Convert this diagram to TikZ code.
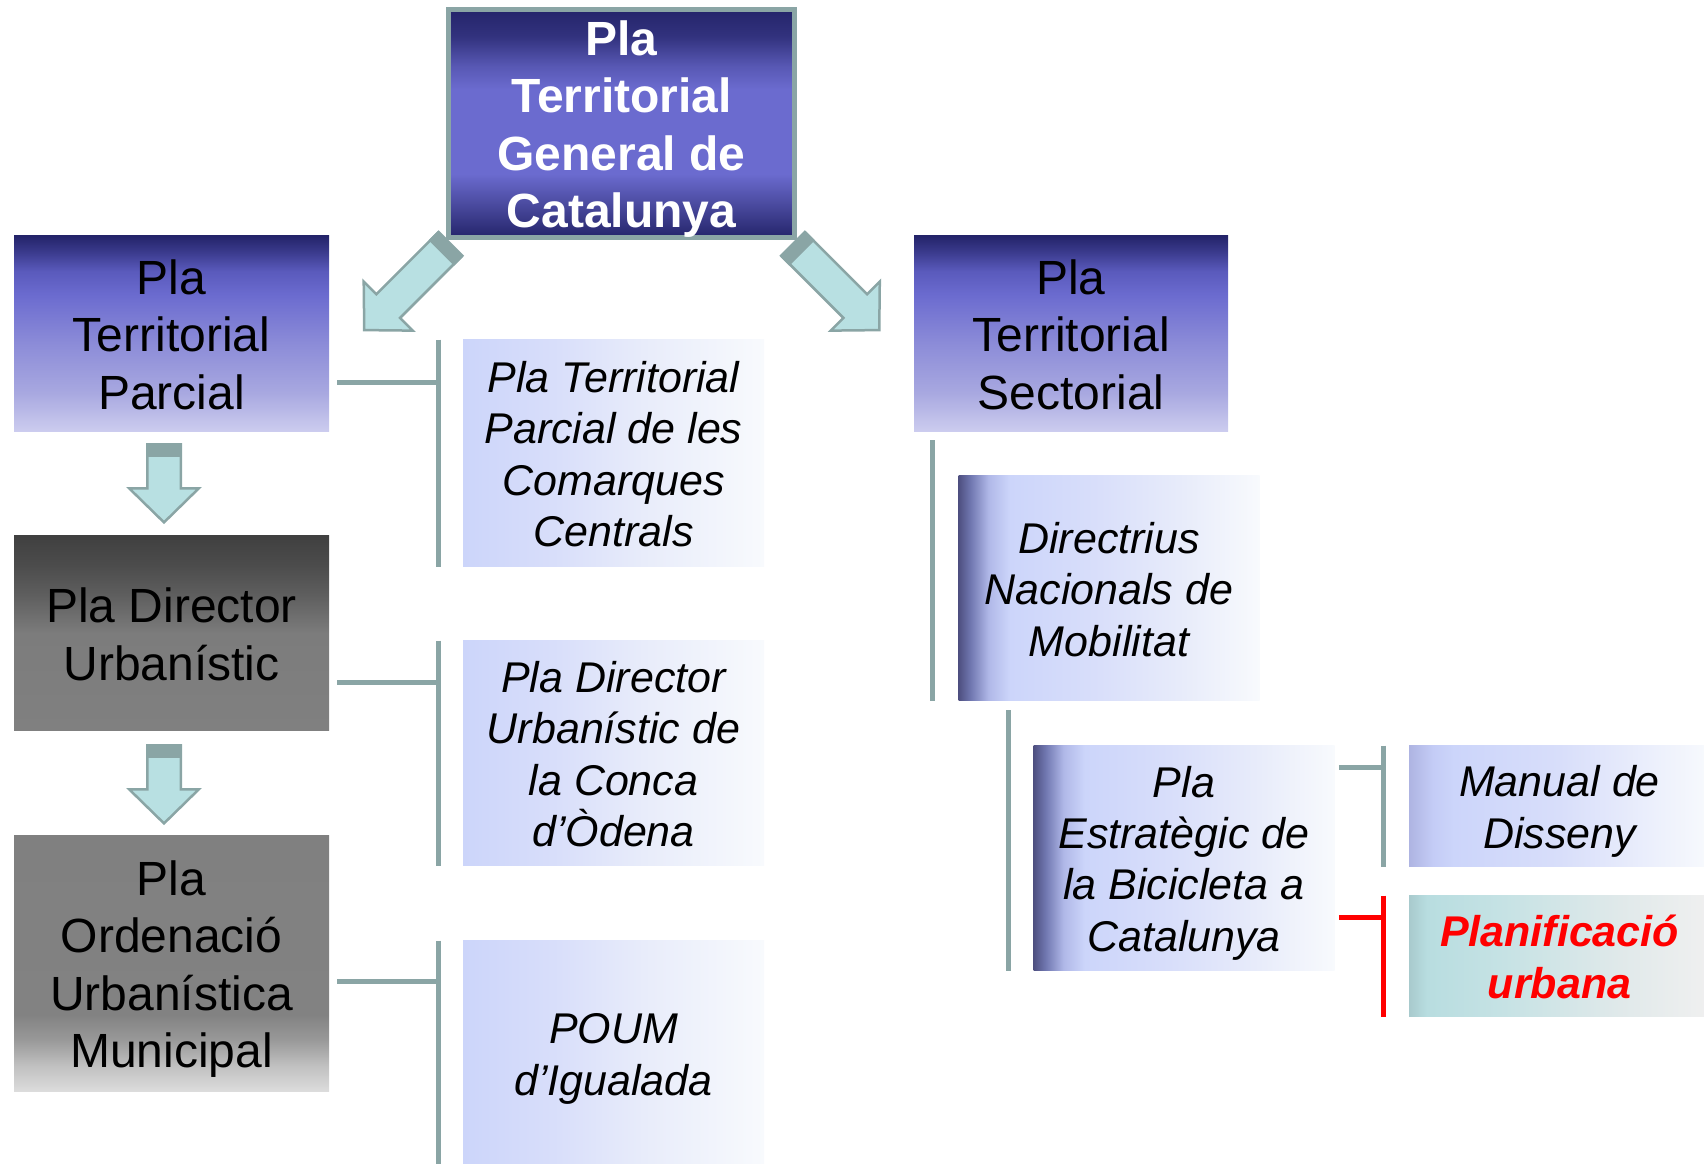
\documentclass[tikz,border=0pt]{standalone}
\usepackage{fontspec}
\setmainfont{Liberation Sans}
\usepackage{tikz}
\usetikzlibrary{positioning,calc}

\definecolor{linegray}{HTML}{8AA5A5}
\definecolor{arrowfill}{HTML}{B8E0E2}
\definecolor{plnavy}{HTML}{24246A}
\definecolor{plmid}{HTML}{6B6BCF}
\definecolor{plhalf}{HTML}{4B4BA0}
\definecolor{plhalfb}{HTML}{5858B4}
\definecolor{plhalfc}{HTML}{32327E}
\definecolor{pllav}{HTML}{CDCDEF}
\definecolor{pllavb}{HTML}{A8A8E0}
\definecolor{pllavc}{HTML}{8C8CD8}
\definecolor{pllavd}{HTML}{5A5ABC}
\definecolor{pllave}{HTML}{3A3A8C}
\definecolor{gra}{HTML}{808080}
\definecolor{grb}{HTML}{7C7C7C}
\definecolor{grc}{HTML}{5E5E5E}
\definecolor{grd}{HTML}{4C4C4C}
\definecolor{gre}{HTML}{404040}
\definecolor{grl}{HTML}{DCDCDC}
\definecolor{grm}{HTML}{C0C0C0}
\definecolor{grn}{HTML}{999999}
\definecolor{gro}{HTML}{828282}
\definecolor{pba}{HTML}{CCD5FA}
\definecolor{pbb}{HTML}{D8DEFA}
\definecolor{pbc}{HTML}{E8ECFA}
\definecolor{pbd}{HTML}{F8FAFD}
\definecolor{pbe}{HTML}{4E4F80}
\definecolor{pbf}{HTML}{7077B0}
\definecolor{pbg}{HTML}{B0B8E8}
\definecolor{pbh}{HTML}{AEB4E2}
\definecolor{pbi}{HTML}{C4CCF6}
\definecolor{tla}{HTML}{A8CACD}
\definecolor{tlb}{HTML}{B8DDE0}
\definecolor{tlc}{HTML}{C5E2E4}
\definecolor{tld}{HTML}{E0E9EA}
\definecolor{tle}{HTML}{F0F0F0}

% vertical ones go bottom to top, horizontal ones left to right
\pgfdeclareverticalshading{generalshade}{100bp}{color(0bp)=(plnavy); color(25bp)=(plnavy);
  color(32.5bp)=(plhalf); color(39bp)=(plmid); color(57.5bp)=(plmid); color(62.5bp)=(plhalfb);
  color(69bp)=(plhalfc); color(75bp)=(plnavy); color(100bp)=(plnavy)}
\pgfdeclareverticalshading{territshade}{100bp}{color(0bp)=(pllav); color(25bp)=(pllav);
  color(35bp)=(pllavb); color(47.5bp)=(pllavc); color(60bp)=(plmid); color(66bp)=(pllavd);
  color(71bp)=(pllave); color(75bp)=(plnavy); color(100bp)=(plnavy)}
\pgfdeclareverticalshading{directorshade}{100bp}{color(0bp)=(gra); color(25bp)=(gra);
  color(50bp)=(grb); color(60bp)=(grc); color(67.5bp)=(grd); color(75bp)=(gre); color(100bp)=(gre)}
\pgfdeclareverticalshading{poumshade}{100bp}{color(0bp)=(grl); color(25bp)=(grl);
  color(30bp)=(grm); color(35bp)=(grn); color(40bp)=(gro); color(75bp)=(gra); color(100bp)=(gra)}
\pgfdeclarehorizontalshading{paleshade}{100bp}{color(0bp)=(pba); color(25bp)=(pba);
  color(40bp)=(pbb); color(55bp)=(pbc); color(75bp)=(pbd); color(100bp)=(pbd)}
\pgfdeclarehorizontalshading{edgeshade}{100bp}{color(0bp)=(pbe); color(25bp)=(pbe);
  color(27bp)=(pbf); color(30bp)=(pbg); color(33.5bp)=(pba); color(47.5bp)=(pbb);
  color(62.5bp)=(pbc); color(75bp)=(pbd); color(100bp)=(pbd)}
\pgfdeclarehorizontalshading{manualshade}{100bp}{color(0bp)=(pbh); color(25bp)=(pbh);
  color(29bp)=(pbi); color(32.5bp)=(pba); color(50bp)=(pbb); color(75bp)=(pbd); color(100bp)=(pbd)}
\pgfdeclarehorizontalshading{urbanashade}{100bp}{color(0bp)=(tla); color(25bp)=(tla);
  color(28bp)=(tlb); color(40bp)=(tlc); color(60bp)=(tld); color(75bp)=(tle); color(100bp)=(tle)}

\newcommand{\bigfont}{\fontsize{24}{28.75}\selectfont}
\newcommand{\itfont}{\fontsize{21.5}{25.7}\selectfont\itshape}
% line boxes as the slide had them
\newcommand{\ts}{\rule{0pt}{0.96em}}
\newcommand{\bs}{\rule[-0.21em]{0pt}{0.21em}}

% block arrow: tail point, angle, length (px)
\newcommand{\blkarrow}[3]{%
  \begin{scope}[shift={#1},rotate=#2]
    \filldraw[fill=arrowfill,draw=linegray,line width=1.25pt] (0,-16.75) -- (#3-34,-16.75)
      -- (#3-34,-34.75) -- (#3,0) -- (#3-34,34.75) -- (#3-34,16.75) -- (0,16.75) -- cycle;
    \fill[linegray] (0,-18) rectangle (13,18);
  \end{scope}}

\begin{document}
\begin{tikzpicture}[x=0.5pt,y=0.5pt,
    box/.style={rectangle,inner sep=0pt,align=center,minimum width=157.5pt,font=\bigfont},
    subbox/.style={box,minimum width=150.5pt,minimum height=112.5pt,font=\itfont,shading=paleshade},
    conn/.style={line width=2.5pt,linegray}]
    \useasboundingbox (0,0) rectangle (1704,1163);

    \node[box,shading=generalshade,draw=linegray,line width=2.5pt,minimum width=173pt,
      minimum height=112pt,text=white,font=\bigfont\bfseries] (tpg) at (621.5,1039.5)
      {\ts Pla\\Territorial\\General de\\Catalunya\bs};

    \node[box,shading=territshade,minimum height=98pt] (ptp) at (171.5,829)
      {\ts Pla\\Territorial\\Parcial\bs};
    \node[box,shading=directorshade,minimum height=97.5pt] (pdu) at (171.5,529.5)
      {\ts Pla Director\\Urbanístic\bs};
    \node[box,shading=poumshade,minimum height=127.5pt] (poum) at (171.5,199.5)
      {\ts Pla\\Ordenació\\Urbanística\\Municipal\bs};
    \node[box,shading=territshade,minimum width=157pt,minimum height=98pt] (pts) at (1071,829)
      {\ts Pla\\Territorial\\Sectorial\bs};

    \node[subbox,minimum height=113.5pt] (ptpcc) at (613.5,709.5)
      {\ts Pla Territorial\\Parcial de les\\Comarques\\Centrals\bs};
    \node[subbox] (pducd) at (613.5,409.5) {\ts Pla Director\\Urbanístic de\\la Conca\\d’Òdena\bs};
    \node[subbox] (pig) at (613.5,109.5) {\ts POUM\\d’Igualada\bs};

    \node[subbox,shading=edgeshade] (dnm) at (1109,574.5) {\ts Directrius\\Nacionals de\\Mobilitat\bs};
    \node[subbox,shading=edgeshade] (pebc) at (1184,305)
      {\ts Pla\\Estratègic de\\la Bicicleta a\\Catalunya\bs};
    \node[subbox,shading=manualshade,minimum height=60.5pt] (mdd) at (1559.5,356.5)
      {\ts Manual de\\Disseny\bs};
    \node[subbox,shading=urbanashade,minimum height=60.5pt,text=red,font=\itfont\bfseries] (plu)
      at (1559.5,206.5) {\ts Planificació\\urbana\bs};

    \blkarrow{([shift={(2.25pt,-1.75pt)}]tpg.south west)}{225}{122}
    \blkarrow{([shift={(-2pt,-1.75pt)}]tpg.south east)}{-45}{122}
    \blkarrow{([shift={(-3.75pt,-6pt)}]ptp.south)}{-90}{78}
    \blkarrow{([shift={(-3.75pt,-7pt)}]pdu.south)}{-90}{78}

    % brackets on the left
    \coordinate (bar1) at ([xshift=-12pt]ptpcc.north west);
    \coordinate (bar2) at ([xshift=-12pt]pducd.north west);
    \coordinate (bar3) at ([xshift=-12pt]pig.north west);
    \draw[conn] (bar1) -- (bar1 |- ptpcc.south);
    \draw[conn] (bar2) -- (bar2 |- pducd.south);
    \draw[conn] (bar3) -- (bar3 |- pig.south);
    \coordinate (s1) at ([shift={(4pt,-24.5pt)}]ptp.east);
    \coordinate (s2) at ([shift={(4pt,-24.5pt)}]pdu.east);
    \coordinate (s3) at ([shift={(4pt,-9.25pt)}]poum.east);
    \draw[conn] (s1) -- (s1 -| bar1);
    \draw[conn] (s2) -- (s2 -| bar2);
    \draw[conn] (s3) -- (s3 -| bar3);

    % brackets on the right
    \coordinate (bar4) at ($(dnm.west |- pts.south)+(-13pt,-4pt)$);
    \coordinate (bar5) at ($(pebc.west |- dnm.south)+(-12.5pt,-4.5pt)$);
    \draw[conn] (bar4) -- (bar4 |- dnm.south);
    \draw[conn] (bar5) -- (bar5 |- pebc.south);
    \coordinate (bar6) at ([xshift=-12.5pt]mdd.north west);
    \coordinate (bar7) at ([xshift=-12.5pt]plu.north west);
    \coordinate (s6) at ([shift={(2pt,45pt)}]pebc.east);
    \coordinate (s7) at ([shift={(2pt,-30pt)}]pebc.east);
    \draw[conn] (bar6) -- (bar6 |- mdd.south);
    \draw[conn] (s6) -- (s6 -| bar6);
    \draw[conn,red] (bar7) -- (bar7 |- plu.south);
    \draw[conn,red] (s7) -- (s7 -| bar7);
\end{tikzpicture}
\end{document}
